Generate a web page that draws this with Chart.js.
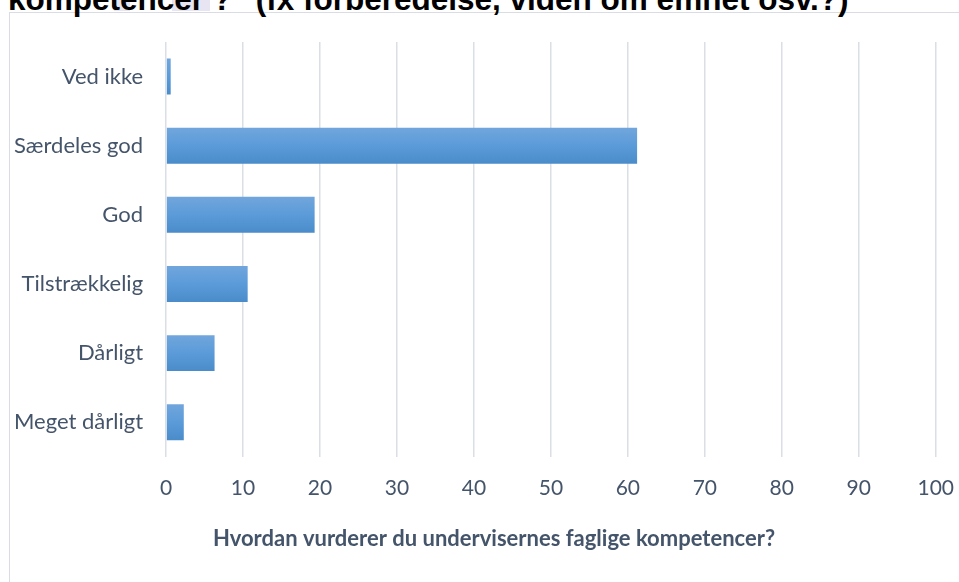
<!DOCTYPE html>
<html>
<head>
<meta charset="utf-8">
<script src="https://cdn.jsdelivr.net/npm/chart.js@4"></script>
<style>
  html, body { margin: 0; padding: 0; background: #ffffff; overflow: hidden; }
  body { width: 959px; height: 582px; position: relative; }
  #frame { position: absolute; left: 9px; top: 12px; width: 980px; height: 600px; border: 1.5px solid #d9dde3; box-sizing: border-box; }
  .hl { position: absolute; top: 0; height: 11px; background: #e7e5f1; }
  #title { position: absolute; left: 8px; top: -16px; font-family: "Liberation Sans", Arial, sans-serif; font-weight: bold; font-size: 31.5px; line-height: 31px; color: #000; white-space: nowrap; }
  #wrap { position: absolute; left: -9px; top: 0; width: 982px; height: 582px; }
</style>
</head>
<body>
<div id="frame"></div>
<div class="hl" style="left:114px; width:16px;"></div>
<div class="hl" style="left:172px; width:38px;"></div>
<div id="title">kompetencer ?" (fx forberedelse, viden om emnet osv.?)</div>
<div id="wrap"><canvas id="c"></canvas></div>
<script>
const categories = ["Ved ikke", "Særdeles god", "God", "Tilstrækkelig", "Dårligt", "Meget dårligt"];
const values = [0.6, 61.2, 19.3, 10.6, 6.3, 2.3];
const xTicks = [0, 10, 20, 30, 40, 50, 60, 70, 80, 90, 100];
const axisTitle = "Hvordan vurderer du undervisernes faglige kompetencer?";

const textColor = "#44546a";
const fontFamily = "Lato, 'Open Sans', sans-serif";

function barFill(ctx) {
  const chart = ctx.chart;
  if (!chart.chartArea || !chart.scales.y) return "#5b9bd5";
  const y = chart.scales.y;
  const c = y.getPixelForValue(ctx.dataIndex);
  const step = Math.abs(y.getPixelForValue(1) - y.getPixelForValue(0));
  const half = step * 0.52 / 2;
  const g = chart.ctx.createLinearGradient(0, c - half, 0, c + half);
  g.addColorStop(0, "#71a6dc");
  g.addColorStop(0.5, "#5b9bd9");
  g.addColorStop(1, "#4a8bc9");
  return g;
}

// x-axis title, centred under the whole chart frame (as in the original)
const axisTitlePlugin = {
  id: "axisTitle",
  afterDraw(chart) {
    const ctx = chart.ctx;
    ctx.save();
    ctx.font = "bold 22px " + fontFamily;
    ctx.fillStyle = textColor;
    ctx.textAlign = "center";
    ctx.textBaseline = "middle";
    ctx.fillText(axisTitle, 503, 539);
    ctx.restore();
  }
};

new Chart(document.getElementById("c"), {
  type: "bar",
  data: {
    labels: categories,
    datasets: [{
      data: values,
      backgroundColor: barFill,
      borderWidth: 0,
      categoryPercentage: 1.0,
      barPercentage: 0.52
    }]
  },
  options: {
    indexAxis: "y",
    responsive: true,
    maintainAspectRatio: false,
    animation: false,
    layout: { padding: { left: 0, right: 8, top: 42, bottom: 62 } },
    plugins: { legend: { display: false }, tooltip: { enabled: false } },
    scales: {
      x: {
        min: 0, max: 100,
        afterBuildTicks: (axis) => { axis.ticks = xTicks.map(v => ({ value: v })); },
        grid: { color: "#dadee5", lineWidth: 1.5, drawTicks: false },
        border: { display: false },
        ticks: { color: textColor, font: { family: fontFamily, size: 21 }, padding: 19 },
        title: { display: false }
      },
      y: {
        grid: { display: false, drawTicks: false },
        border: { display: false },
        ticks: { color: textColor, font: { family: fontFamily, size: 22 }, padding: 23 }
      }
    }
  },
  plugins: [axisTitlePlugin]
});
</script>
</body>
</html>
